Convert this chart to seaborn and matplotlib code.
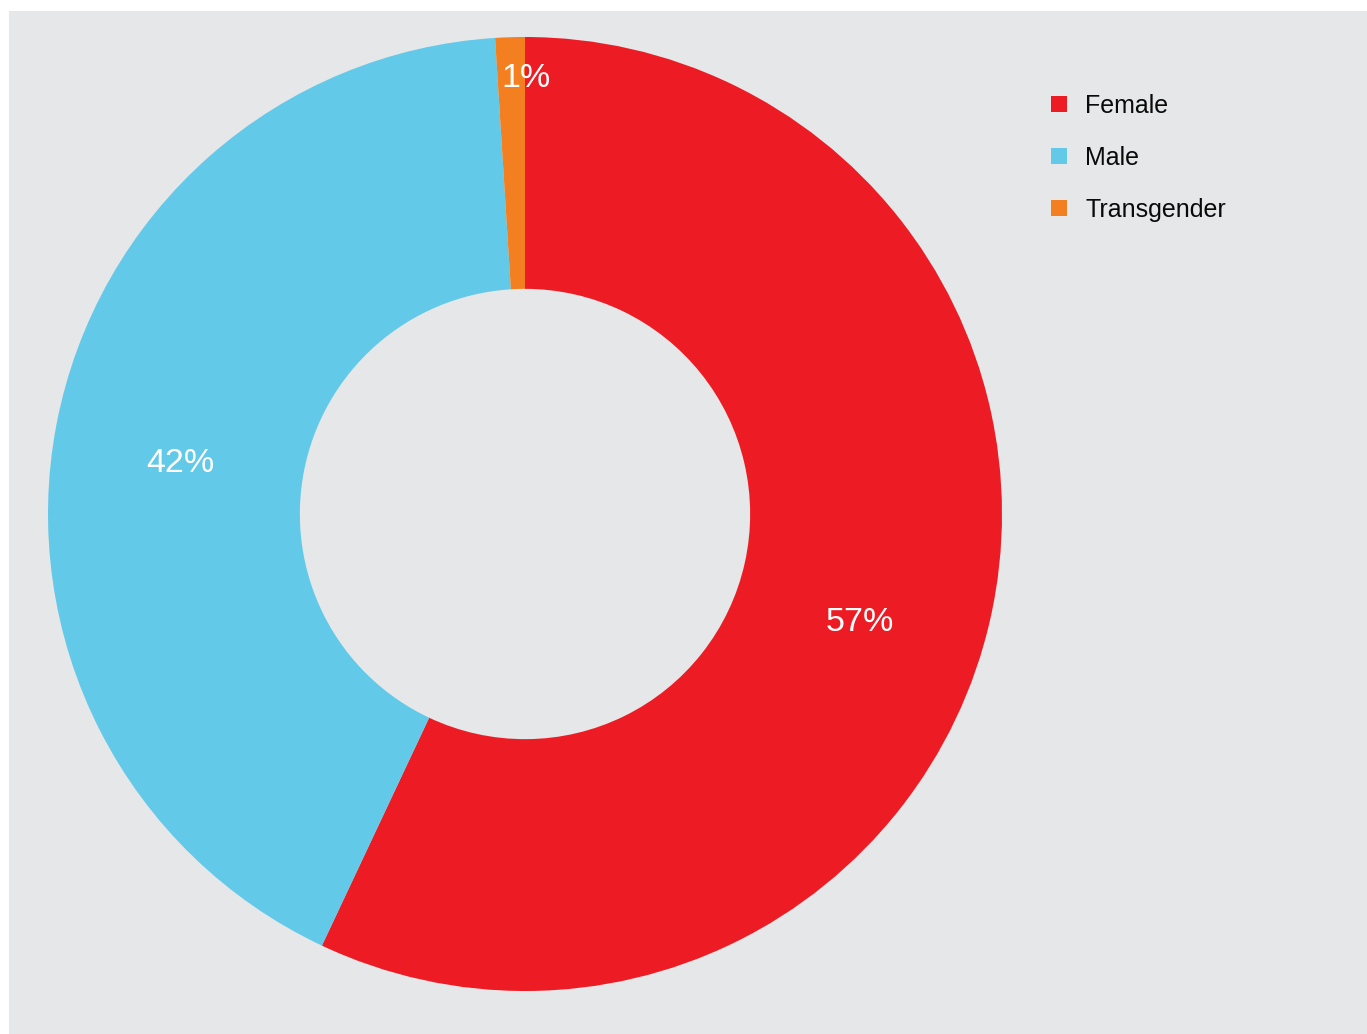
import matplotlib
matplotlib.use("Agg")
import matplotlib.pyplot as plt
from matplotlib.patches import Rectangle
import seaborn as sns

# Gender breakdown
categories = ["Female", "Male", "Transgender"]
shares = [57, 42, 1]

colors = ["#ED1C24", "#62C9E8", "#F37F21"]
background = "#E6E7E8"

sns.set_theme(style="white")
plt.rcParams["font.family"] = ["Liberation Sans", "DejaVu Sans"]
palette = sns.color_palette(colors)

fig = plt.figure(figsize=(13.67, 10.34), dpi=100, facecolor="white")

# grey panel behind the chart
fig.patches.append(Rectangle((9 / 1367, 0), 1 - 9 / 1367, 1 - 11 / 1034,
                             transform=fig.transFigure, facecolor=background,
                             edgecolor="none", zorder=-10))

ax = fig.add_axes([48 / 1367, 43 / 1034, 954 / 1367, 954 / 1034])
ax.set_facecolor("none")
ax.set_axis_off()
ax.set_zorder(1)

wedges, _, pct_texts = ax.pie(
    shares,
    colors=palette,
    startangle=90,
    counterclock=False,
    radius=1.0,
    autopct=lambda p: f"{p:.0f}%",
    pctdistance=0.74,
    wedgeprops=dict(width=0.528, linewidth=0, antialiased=True),
    textprops=dict(color="white", fontsize=24.5),
)

# nudge the percentage labels inside their ring segments
label_xy = [(0.702, -0.228), (-0.723, 0.105), (0.002, 0.912)]
for t, xy in zip(pct_texts, label_xy):
    t.set_position(xy)
    t.set_ha("center")
    t.set_va("center")

ax.set_xlim(-1, 1)
ax.set_ylim(-1, 1)
ax.set_aspect("equal")

leg = fig.legend(
    wedges, categories,
    loc="upper left",
    bbox_to_anchor=(1051 / 1367, 1 - 94 / 1034),
    frameon=False,
    fontsize=18,
    handlelength=0.64,
    handleheight=0.64,
    handletextpad=0.72,
    labelspacing=1.12,
    borderpad=0,
    borderaxespad=0,
    labelcolor="#0a0a0a",
)
leg.set_zorder(2)

fig.savefig("out.png", dpi=100, facecolor="white")
